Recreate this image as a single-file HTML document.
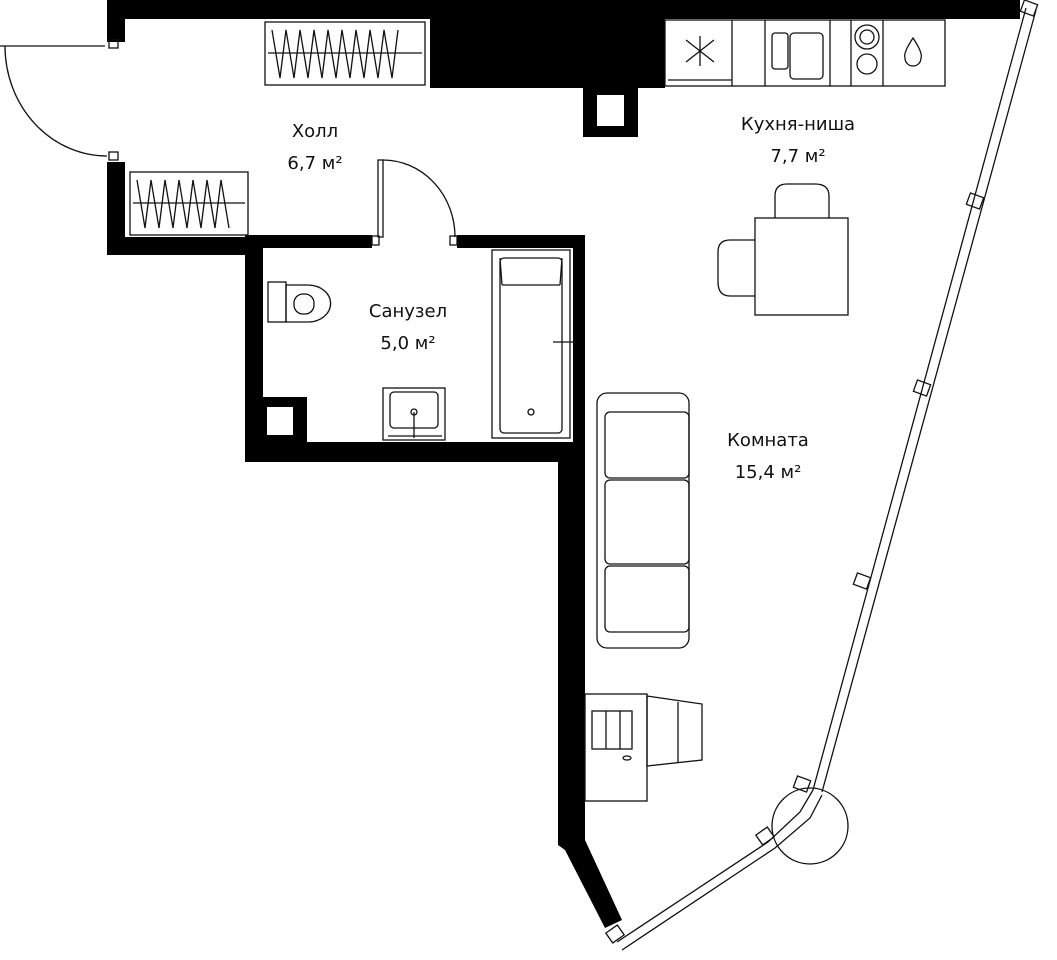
<!DOCTYPE html><html><head><style>body{margin:0;background:#fff}svg{display:block}text{font-family:"DejaVu Sans","Liberation Sans",sans-serif;font-size:18px;fill:#111;text-anchor:middle}</style></head><body>
<svg width="1057" height="960" viewBox="0 0 1057 960" xmlns="http://www.w3.org/2000/svg">
<g fill="#000">
<rect x="107" y="0" width="913" height="19"/>
<rect x="107" y="0" width="18" height="42"/>
<rect x="430" y="0" width="235" height="88"/>
<rect x="583" y="88" width="55" height="49"/>
<rect x="107" y="162" width="18" height="93"/>
<rect x="107" y="237" width="143" height="18"/>
<rect x="245" y="235" width="127" height="13"/>
<rect x="457" y="235" width="128" height="13"/>
<rect x="245" y="235" width="18" height="227"/>
<rect x="573" y="235" width="12" height="227"/>
<rect x="245" y="442" width="340" height="20"/>
<rect x="263" y="397" width="44" height="48"/>
<polygon points="558,445 585,445 585,840 622,920 605,928 565,850 558,845"/>
</g>
<g fill="#fff"><rect x="597" y="95" width="27" height="31"/><rect x="267" y="407" width="26" height="28"/></g>
<g fill="none" stroke="#111" stroke-width="1.3">
<!-- entry door -->
<line x1="0" y1="46" x2="105" y2="46"/><path d="M5,46 A102,110 0 0 0 107,156"/>
<rect x="109" y="40" width="9" height="8"/><rect x="109" y="152" width="9" height="8"/>
<!-- bath door -->
<rect x="378" y="160" width="5" height="77"/><path d="M383,160 A72,77 0 0 1 455,237"/>
<rect x="372" y="236" width="7" height="9"/><rect x="450" y="236" width="7" height="9"/>
<!-- wardrobes -->
<rect x="265" y="22" width="160" height="63"/><line x1="268" y1="53" x2="422" y2="53"/>
<path d="M272,30 l8,48 l6,-48 l8,48 l6,-48 l8,48 l6,-48 l8,48 l6,-48 l8,48 l6,-48 l8,48 l6,-48 l8,48 l6,-48 l8,48 l6,-48 l8,48 l6,-48"/>
<rect x="130" y="172" width="118" height="63"/><line x1="133" y1="203" x2="245" y2="203"/>
<path d="M137,180 l8,48 l6,-48 l8,48 l6,-48 l8,48 l6,-48 l8,48 l6,-48 l8,48 l6,-48 l8,48 l6,-48 l8,48"/>
<!-- kitchen -->
<rect x="665" y="20" width="280" height="66"/>
<line x1="732" y1="20" x2="732" y2="86"/><line x1="765" y1="20" x2="765" y2="86"/><line x1="830" y1="20" x2="830" y2="86"/><line x1="851" y1="20" x2="851" y2="86"/><line x1="883" y1="20" x2="883" y2="86"/>
<line x1="668" y1="80" x2="732" y2="80"/>
<path d="M686,40 l28,22 M686,62 l28,-22 M700,36 v30"/>
<rect x="772" y="33" width="16" height="36" rx="3"/><rect x="790" y="33" width="33" height="46" rx="4"/>
<circle cx="867" cy="37" r="12"/><circle cx="867" cy="37" r="7"/><circle cx="867" cy="64" r="10"/>
<path d="M913,38 q-10,15 -8,20 a8,8 0 0 0 16,0 q2,-5 -8,-20z"/>
<!-- bath -->
<rect x="492" y="250" width="78" height="188"/><rect x="500" y="258" width="62" height="175" rx="4"/>
<path d="M502,285 h58 M502,285 l-2,-27 M560,285 l2,-27"/><circle cx="531" cy="412" r="3"/>
<line x1="553" y1="342" x2="575" y2="342"/>
<!-- toilet -->
<rect x="268" y="282" width="18" height="40"/><path d="M286,285 h22 a22,18 0 0 1 0,37 h-22z"/><rect x="294" y="294" width="20" height="20" rx="9"/>
<!-- sink -->
<rect x="383" y="388" width="62" height="52"/><rect x="390" y="392" width="48" height="36" rx="4"/><circle cx="414" cy="412" r="3"/><line x1="414" y1="412" x2="414" y2="438"/><line x1="388" y1="436" x2="442" y2="436"/>
<!-- table & chairs -->
<rect x="755" y="218" width="93" height="97"/>
<path d="M775,218 v-22 q0,-12 12,-12 h28 q14,0 14,12 v22"/>
<path d="M755,240 h-25 q-12,0 -12,12 v30 q0,14 12,14 h25"/>
<!-- sofa -->
<rect x="597" y="393" width="92" height="255" rx="10"/>
<rect x="605" y="412" width="84" height="66" rx="5"/><rect x="605" y="480" width="84" height="84" rx="5"/><rect x="605" y="566" width="84" height="66" rx="5"/>
<!-- desk -->
<rect x="585" y="694" width="62" height="107"/><rect x="592" y="711" width="40" height="38"/><line x1="606" y1="711" x2="606" y2="749"/><line x1="620" y1="711" x2="620" y2="749"/>
<ellipse cx="627" cy="758" rx="4" ry="2"/>
<path d="M647,696 l55,8 v56 l-55,6z"/><line x1="678" y1="702" x2="678" y2="762"/>
<!-- windows -->
<path d="M1026,8 L813,790 M1036,10 L822,792"/>
<path d="M813,790 L800,812 L768,842 L617,942 M822,795 L810,818 L775,848 L622,950"/>
<circle cx="810" cy="826" r="38"/>
<rect x="1022" y="2" width="14" height="12" transform="rotate(20 1029 8)"/>
<rect x="968" y="195" width="14" height="12" transform="rotate(20 975 201)"/>
<rect x="915" y="382" width="14" height="12" transform="rotate(20 922 388)"/>
<rect x="855" y="575" width="14" height="12" transform="rotate(20 862 581)"/>
<rect x="795" y="778" width="14" height="12" transform="rotate(20 802 784)"/>
<rect x="758" y="830" width="14" height="12" transform="rotate(-35 765 836)"/>
<rect x="608" y="928" width="14" height="12" transform="rotate(-35 615 934)"/>
</g>
<text x="315" y="137">Холл</text><text x="315" y="169">6,7 м²</text>
<text x="798" y="130">Кухня-ниша</text><text x="798" y="162">7,7 м²</text>
<text x="408" y="317">Санузел</text><text x="408" y="349">5,0 м²</text>
<text x="768" y="446">Комната</text><text x="768" y="478">15,4 м²</text>
</svg></body></html>
